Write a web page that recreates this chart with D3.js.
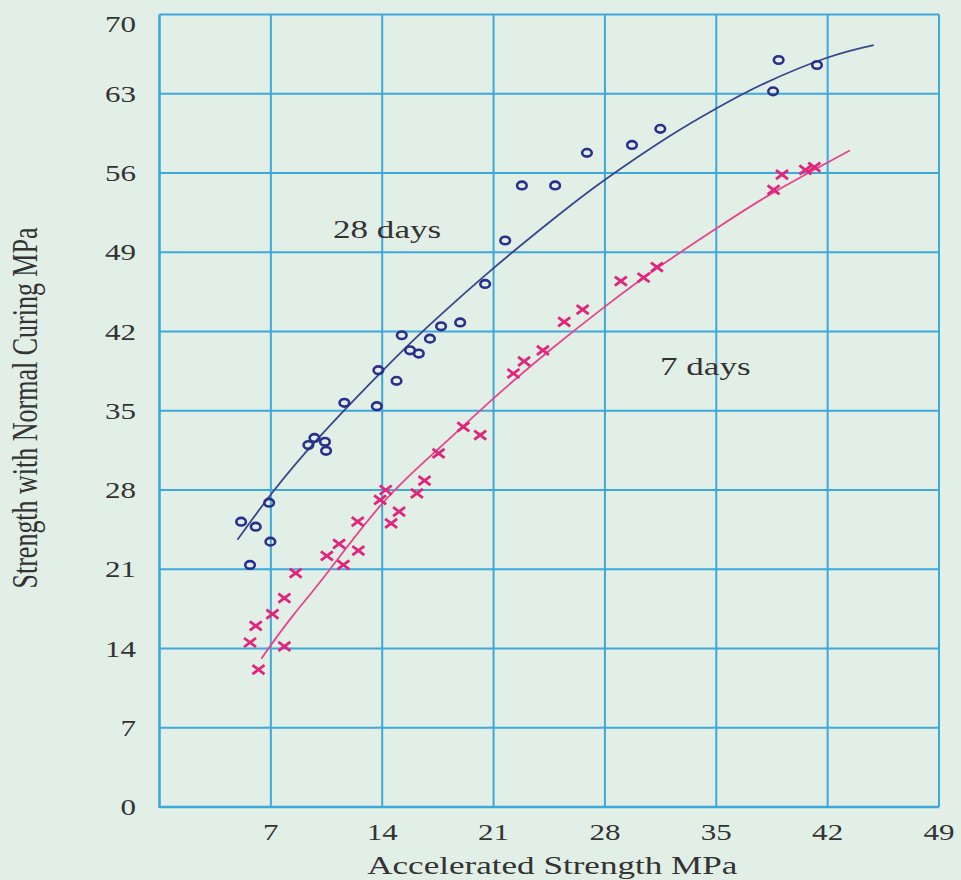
<!DOCTYPE html>
<html>
<head>
<meta charset="utf-8">
<script src="https://cdn.jsdelivr.net/npm/d3@7"></script>
<style>
  body { margin: 0; background: #e2efe6; }
  svg { display: block; }
  text { font-family: "Liberation Serif", "Times New Roman", serif; fill: #333; }
</style>
</head>
<body>
<div id="chart"></div>
<script>
// tick values
const xTicks = [7, 14, 21, 28, 35, 42, 49];
const yTicks = [0, 7, 14, 21, 28, 35, 42, 49, 56, 63, 70];

// 28 days specimens (accelerated, normal curing)
const days28 = [
  [5.13, 25.2], [5.69, 21.38], [6.05, 24.76], [6.89, 26.88], [6.97, 23.44],
  [9.36, 31.97], [9.74, 32.6], [10.4, 32.26], [10.47, 31.46], [11.62, 35.7],
  [13.66, 35.4], [13.76, 38.58], [14.9, 37.64], [15.23, 41.67], [15.75, 40.34],
  [16.3, 40.05], [17.0, 41.37], [17.7, 42.46], [18.9, 42.8], [20.47, 46.2],
  [21.73, 50.04], [22.78, 54.9], [24.87, 54.9], [26.87, 57.78], [29.7, 58.48],
  [31.48, 59.9], [38.57, 63.21], [38.92, 65.98], [41.33, 65.54]
];

// 7 days specimens
const days7 = [
  [5.69, 14.53], [6.05, 16.0], [6.22, 12.13], [7.1, 17.04], [7.85, 14.18],
  [7.85, 18.45], [8.56, 20.65], [10.52, 22.18], [11.29, 23.24], [11.56, 21.38],
  [12.5, 22.65], [12.46, 25.2], [13.87, 27.12], [14.22, 28.0], [14.56, 25.06],
  [15.06, 26.09], [16.18, 27.7], [16.66, 28.82], [17.54, 31.23], [19.1, 33.58],
  [20.16, 32.85], [22.25, 38.29], [22.92, 39.37], [24.1, 40.34], [25.44, 42.84],
  [26.6, 43.93], [29.0, 46.45], [30.43, 46.75], [31.27, 47.69], [38.6, 54.5],
  [39.13, 55.86], [40.6, 56.28], [41.16, 56.51]
];

// fitted curves
const fit28 = [
  [4.9, 23.6], [7, 27.6], [10, 32.6], [14, 38.5], [17, 42.6], [21, 47.6],
  [25, 52.2], [28, 55.4], [32, 59.2], [35, 61.7], [38, 63.9], [42, 66.2], [44.9, 67.3]
];
const fit7 = [
  [6.4, 13.1], [7, 14.3], [8.5, 17.1], [10.5, 20.6], [14, 26.8], [17.5, 31.6],
  [21, 36.1], [24.5, 40.3], [28, 44.2], [31.5, 47.8], [35, 51.1], [38.5, 54.2], [43.4, 58.0]
];

const W = 961, H = 880;
const margin = { top: 14.5, right: 22, bottom: 73, left: 159.5 };
const stretch = 1.35; // text in the picture is wider than it is tall

const svg = d3.select("#chart").append("svg")
  .attr("width", W)
  .attr("height", H);

svg.append("rect").attr("width", W).attr("height", H).attr("fill", "#e2efe6");

const xScale = d3.scaleLinear().domain([0, 49]).range([margin.left, W - margin.right]);
const yScale = d3.scaleLinear().domain([0, 70]).range([H - margin.bottom, margin.top]);

const gridColor = "#3ea8da";

// grid
const grid = svg.append("g");
grid.selectAll(".vline")
  .data(xTicks)
  .enter().append("line")
  .attr("x1", d => xScale(d)).attr("x2", d => xScale(d))
  .attr("y1", yScale(0)).attr("y2", yScale(70))
  .style("stroke", gridColor)
  .style("stroke-width", 2);

grid.selectAll(".hline")
  .data(yTicks)
  .enter().append("line")
  .attr("x1", xScale(0)).attr("x2", xScale(49))
  .attr("y1", d => yScale(d)).attr("y2", d => yScale(d))
  .style("stroke", gridColor)
  .style("stroke-width", 2);

// axes (left and bottom a little heavier)
grid.append("line")
  .attr("x1", xScale(0)).attr("x2", xScale(0))
  .attr("y1", yScale(0) + 1).attr("y2", yScale(70))
  .style("stroke", gridColor).style("stroke-width", 2.6);
grid.append("line")
  .attr("x1", xScale(0)).attr("x2", xScale(49))
  .attr("y1", yScale(0)).attr("y2", yScale(0))
  .style("stroke", gridColor).style("stroke-width", 2.6);

// tick labels
svg.append("g").selectAll("text")
  .data(xTicks)
  .enter().append("text")
  .attr("transform", d => `translate(${xScale(d)},${yScale(0) + 33}) scale(${stretch},1)`)
  .attr("text-anchor", "middle")
  .style("font-size", "23px")
  .text(d => d);

svg.append("g").selectAll("text")
  .data(yTicks)
  .enter().append("text")
  .attr("transform", d => `translate(136,${yScale(d) + (d === 70 ? 17 : 8)}) scale(${stretch},1)`)
  .attr("text-anchor", "end")
  .style("font-size", "23px")
  .text(d => d);

// axis titles
svg.append("text")
  .attr("transform", `translate(${(xScale(0) + xScale(49)) / 2 + 3},${H - 6}) scale(${stretch},1)`)
  .attr("text-anchor", "middle")
  .style("font-size", "26px")
  .text("Accelerated Strength MPa");

svg.append("text")
  .attr("transform", `translate(37,408) rotate(-90) scale(1,${stretch})`)
  .attr("text-anchor", "middle")
  .style("font-size", "26px")
  .text("Strength with Normal Curing MPa");

// curves
const line = d3.line()
  .x(d => xScale(d[0]))
  .y(d => yScale(d[1]))
  .curve(d3.curveNatural);

svg.append("path")
  .datum(fit28)
  .attr("d", line)
  .style("fill", "none")
  .style("stroke", "#37478c")
  .style("stroke-width", 1.8);

svg.append("path")
  .datum(fit7)
  .attr("d", line)
  .style("fill", "none")
  .style("stroke", "#e8438d")
  .style("stroke-width", 1.8);

// markers
svg.append("g").selectAll("ellipse")
  .data(days28)
  .enter().append("ellipse")
  .attr("cx", d => xScale(d[0]))
  .attr("cy", d => yScale(d[1]))
  .attr("rx", 4.8)
  .attr("ry", 3.8)
  .style("fill", "none")
  .style("stroke", "#2b2f8c")
  .style("stroke-width", 2.6);

svg.append("g").selectAll("path")
  .data(days7)
  .enter().append("path")
  .attr("transform", d => `translate(${xScale(d[0])},${yScale(d[1])})`)
  .attr("d", "M-6,-4.5L6,4.5M-6,4.5L6,-4.5")
  .style("fill", "none")
  .style("stroke", "#e0267a")
  .style("stroke-width", 2.8);

// series labels
svg.append("text")
  .attr("transform", `translate(333,${yScale(0) - 569}) scale(${stretch},1)`)
  .style("font-size", "26px")
  .text("28 days");

svg.append("text")
  .attr("transform", `translate(660,375) scale(${stretch},1)`)
  .style("font-size", "26px")
  .text("7 days");
</script>
</body>
</html>
